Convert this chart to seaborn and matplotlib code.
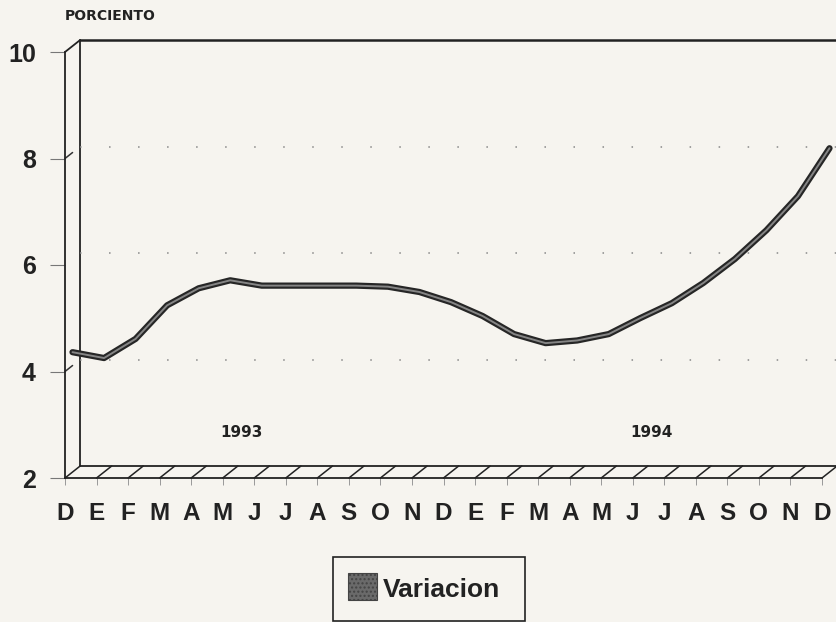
import numpy as np
import pandas as pd
import matplotlib
matplotlib.use('Agg')
import matplotlib.pyplot as plt
import matplotlib.transforms as mtransforms
from matplotlib.patches import Rectangle
import seaborn as sns

# ---------------- data ----------------
months = ['D', 'E', 'F', 'M', 'A', 'M', 'J', 'J', 'A', 'S', 'O', 'N',
          'D', 'E', 'F', 'M', 'A', 'M', 'J', 'J', 'A', 'S', 'O', 'N', 'D']
variacion = [4.25, 4.14, 4.5, 5.13, 5.45, 5.6, 5.5, 5.5, 5.5, 5.5, 5.48, 5.38,
             5.19, 4.93, 4.59, 4.42, 4.47, 4.59, 4.89, 5.17, 5.55, 6.0, 6.54, 7.18, 8.08]
years = ['1993', '1994']
year_pos = [5.6, 18.6]
yticks = [2, 4, 6, 8, 10]
grid_levels = [4, 6, 8]

df = pd.DataFrame({'pos': np.arange(len(months)), 'Variacion': variacion})

sns.set_style('white')
plt.rcParams['font.family'] = ['Liberation Sans', 'DejaVu Sans']
plt.rcParams['font.weight'] = 'bold'

bg = '#f6f4ef'
fig = plt.figure(figsize=(8.36, 6.22), dpi=100, facecolor=bg)
ax = fig.add_axes([65/836, 1 - 478/622, 757/836, 426/622])
ax.set_facecolor('none')
ax.set_xlim(0, 24)
ax.set_ylim(2, 10)

# depth offset of the pseudo 3D box (data units)
DX, DY = 0.48, 0.225

# back wall
ax.plot([DX, DX], [2 + DY, 10 + DY], color='#222', lw=1.3, clip_on=False)
ax.plot([DX, 24.6], [10 + DY, 10 + DY], color='#222', lw=1.8, clip_on=False)
ax.plot([0, DX], [10, 10 + DY], color='#222', lw=1.3, clip_on=False)
for g in grid_levels:
    ax.plot([DX, 24.6], [g + DY, g + DY], color='#888', lw=1.1,
            linestyle=(0, (1, 18)), clip_on=False)
for g in [4, 8]:
    ax.plot([0, DX * 0.5], [g, g + DY * 0.5], color='#333', lw=1.1, clip_on=False)

# floor with hatch
ax.plot([DX, 24 + DX], [2 + DY, 2 + DY], color='#222', lw=1.3, clip_on=False)
for i in range(len(months)):
    ax.plot([i, i + DX], [2, 2 + DY], color='#222', lw=1.1, clip_on=False)

# series as a ribbon (mid depth)
off = mtransforms.ScaledTranslation(7.5/100, 6/100, fig.dpi_scale_trans)
sns.lineplot(data=df, x='pos', y='Variacion', color='#262626', lw=4.5, ax=ax)
sns.lineplot(data=df, x='pos', y='Variacion', color='#858585', lw=1.4, ax=ax)
for ln in ax.get_lines()[-2:]:
    ln.set_transform(ax.transData + off)
    ln.set_clip_on(False)

# axes styling
for s in ['top', 'right']:
    ax.spines[s].set_visible(False)
ax.spines['left'].set_color('#222')
ax.spines['left'].set_linewidth(1.3)
ax.spines['bottom'].set_color('#222')
ax.spines['bottom'].set_linewidth(1.3)

ax.set_yticks(yticks)
ax.set_yticklabels([str(t) for t in yticks], fontsize=18, fontweight='bold', color='#222')
ax.tick_params(axis='y', direction='out', length=11, width=0.8, color='#777', pad=10, left=True)
ax.set_xticks(range(len(months)))
ax.set_xticklabels(months, fontsize=17.5, fontweight='bold', color='#222')
ax.tick_params(axis='x', direction='out', length=5, width=0.7, color='#999', pad=12, bottom=True)
ax.set_xlabel('')
ax.set_ylabel('')

for yr, xp in zip(years, year_pos):
    ax.text(xp, 2.85, yr, ha='center', va='center', fontsize=11, fontweight='bold',
            color='#222', family='DejaVu Sans')

fig.text(65/836, 1 - 16/622, 'PORCIENTO', ha='left', va='center', fontsize=10,
         fontweight='bold', color='#222', family='DejaVu Sans')

# legend
fig.patches.append(Rectangle((333/836, 1 - 621/622), 192/836, 64/622, transform=fig.transFigure,
                             facecolor='none', edgecolor='#222', lw=1.2))
fig.patches.append(Rectangle((348/836, 1 - 600/622), 29/836, 27/622, transform=fig.transFigure,
                             facecolor='#6a6a6a', edgecolor='#444', lw=0.8, hatch='....'))
fig.text(383/836, 1 - 590/622, 'Variacion', ha='left', va='center', fontsize=19,
         fontweight='bold', color='#222')

fig.savefig('out.png', dpi=100, facecolor=bg)
